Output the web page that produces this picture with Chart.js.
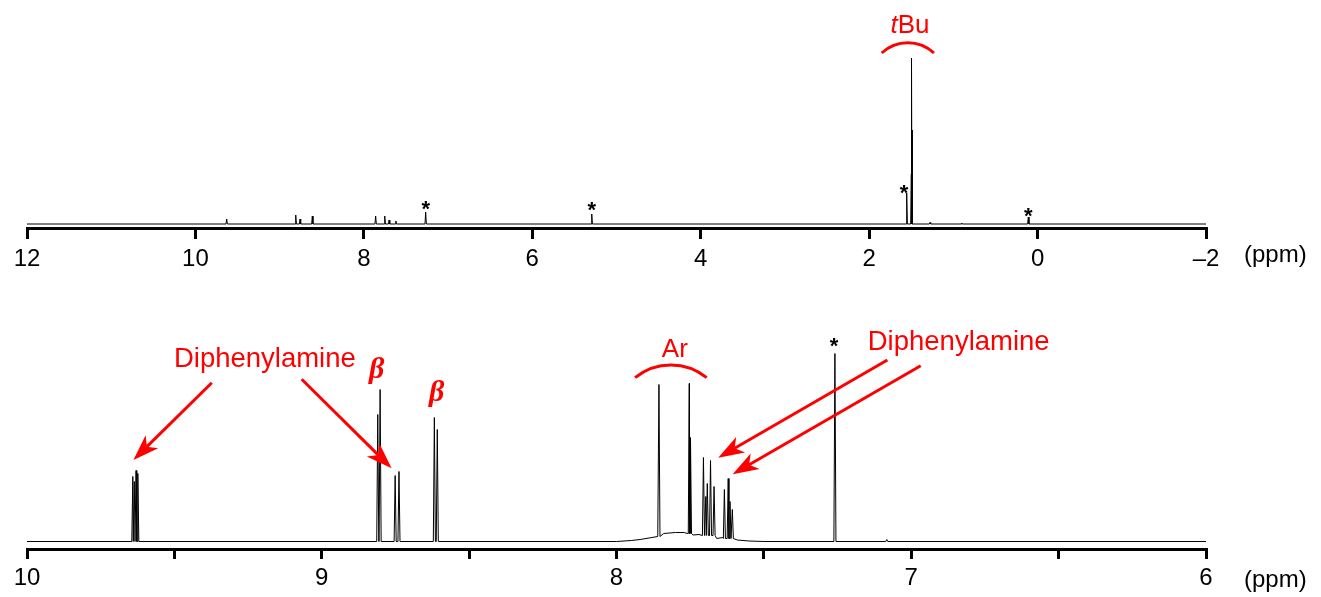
<!DOCTYPE html>
<html>
<head>
<meta charset="utf-8">
<script src="https://cdn.jsdelivr.net/npm/chart.js@4.4.1/dist/chart.umd.min.js"></script>
<style>
  html, body { margin: 0; padding: 0; background: #fff; }
  body { width: 1321px; height: 597px; position: relative; overflow: hidden; }
  .panel { position: absolute; left: 0; width: 1321px; }
  #panelTop { top: 0; height: 297px; }
  #panelBot { top: 297px; height: 300px; }
</style>
</head>
<body>
<div class="panel" id="panelTop"><canvas id="espectroTop"></canvas></div>
<div class="panel" id="panelBot"><canvas id="espectroBot"></canvas></div>
<script>
// Espectro completo (12 a -2 ppm): posicion y altura de cada senal
const shiftTop  = [9.629, 8.809, 8.758, 8.612, 7.860, 7.752, 7.700, 7.620, 7.266, 5.294, 1.554, 1.499, 1.495, 1.491, 1.277, 0.901, 0.110];
const heightTop = [5, 9, 5, 8, 8, 8, 4, 3, 12, 10, 31, 50, 166, 94, 1.5, 1, 7];
const floorTop  = [0, 0, 0, 0, 0, 0, 0, 0, 0, 0, 0, 0, 0, 0, 0, 0, 0];
const baseShiftTop = [12, -2];
const baseLevelTop = [0, 0];

// Ampliacion 10 a 6 ppm
const shiftBot  = [9.641, 9.636, 9.630, 9.624, 8.810, 8.802, 8.751, 8.738, 8.618, 8.608,
                   7.856, 7.753, 7.749, 7.705, 7.697, 7.692, 7.681, 7.669, 7.634, 7.621, 7.615, 7.607, 7.259, 7.083];
const heightBot = [65, 60, 71, 68, 127, 152, 66, 70, 124, 112,
                   152, 150, 96, 78, 39, 52, 75, 49, 49, 60, 37, 29, 188, 2];
const floorBot  = [0, 0, 0, 0, 0, 0, 0, 0, 0, 0,
                   5, 8, 8, 6, 6, 6, 6, 6, 3, 3, 3, 3, 0, 0];
const baseShiftBot = [10, 8.00, 7.95, 7.92, 7.88, 7.86, 7.84, 7.80, 7.77, 7.76, 7.74, 7.72, 7.66, 7.64, 7.59, 7.55, 7.50, 6];
const baseLevelBot = [0, 0, 1, 2, 4, 5, 8, 9, 9, 8, 6.5, 7, 3, 4, 1.5, 0.5, 0, 0];

// Ejes
const ticksTop  = [12, 10, 8, 6, 4, 2, 0, -2];
const labelsTop = ['12', '10', '8', '6', '4', '2', '0', '\u20132'];
const ticksBot  = [10, 9.5, 9, 8.5, 8, 7.5, 7, 6.5, 6];
const labelsBot = ['10', '', '9', '', '8', '', '7', '', '6'];

const ROJO = '#ff0000';
const SANS = "'Liberation Sans', Arial, sans-serif";
const SERIF = "'Liberation Serif', 'Times New Roman', serif";

// Une la linea base y los picos (triangulos estrechos) en una sola traza
function construirTraza(baseX, baseY, pX, pY, pF, semiAncho) {
  const puntos = [];
  baseX.forEach((x, i) => puntos.push({x: x, y: baseY[i]}));
  pX.forEach((x, i) => {
    puntos.push({x: x + semiAncho, y: pF[i]});
    puntos.push({x: x, y: pF[i] + pY[i]});
    puntos.push({x: x - semiAncho, y: pF[i]});
  });
  puntos.sort((a, b) => b.x - a.x);
  return puntos;
}

// Plugin: etiquetas rojas, arcos, flechas, asteriscos y "(ppm)"
const notasPlugin = {
  id: 'notas',
  afterDraw(chart, args, opts) {
    const ctx = chart.ctx;
    const xs = chart.scales.x, ys = chart.scales.y;
    const px = v => xs.getPixelForValue(v);
    const py = v => ys.getPixelForValue(v);
    ctx.save();

    (opts.textos || []).forEach(t => {
      ctx.fillStyle = t.color;
      ctx.textBaseline = 'alphabetic';
      ctx.textAlign = 'left';
      let total = 0;
      t.partes.forEach(p => { ctx.font = p.font; total += ctx.measureText(p.t).width; });
      let x = px(t.x) - total / 2;
      t.partes.forEach(p => {
        ctx.font = p.font;
        ctx.fillText(p.t, x, py(t.y));
        x += ctx.measureText(p.t).width;
      });
    });

    ctx.strokeStyle = ROJO;
    ctx.fillStyle = ROJO;
    ctx.lineWidth = 3;
    ctx.lineCap = 'butt';
    (opts.arcos || []).forEach(a => {
      const x1 = px(a.x1), x2 = px(a.x2), yE = py(a.yEnd), yT = py(a.yTop);
      const c = Math.abs(x2 - x1), s = yE - yT;
      const r = (c * c / 4 + s * s) / (2 * s);
      const cx = (x1 + x2) / 2, cy = yT + r;
      const a1 = Math.atan2(yE - cy, Math.min(x1, x2) - cx);
      const a2 = Math.atan2(yE - cy, Math.max(x1, x2) - cx);
      ctx.beginPath();
      ctx.arc(cx, cy, r, a1, a2, false);
      ctx.stroke();
    });

    (opts.flechas || []).forEach(f => {
      const x1 = px(f.x1), y1 = py(f.y1), x2 = px(f.x2), y2 = py(f.y2);
      const ang = Math.atan2(y2 - y1, x2 - x1);
      const L = 26, W = 9, N = 19;
      const ux = Math.cos(ang), uy = Math.sin(ang);
      ctx.beginPath();
      ctx.moveTo(x1, y1);
      ctx.lineTo(x2 - ux * N, y2 - uy * N);
      ctx.stroke();
      ctx.beginPath();
      ctx.moveTo(x2, y2);
      ctx.lineTo(x2 - ux * L - uy * W, y2 - uy * L + ux * W);
      ctx.lineTo(x2 - ux * N, y2 - uy * N);
      ctx.lineTo(x2 - ux * L + uy * W, y2 - uy * L - ux * W);
      ctx.closePath();
      ctx.fill();
    });

    ctx.fillStyle = '#000';
    ctx.font = 'bold 22px ' + SANS;
    ctx.textAlign = 'center';
    ctx.textBaseline = 'alphabetic';
    (opts.asteriscos || []).forEach(a => ctx.fillText('*', px(a[0]), py(a[1])));

    if (opts.ppm) {
      ctx.font = '24px ' + SANS;
      ctx.textAlign = 'left';
      ctx.fillText('(ppm)', chart.chartArea.right + opts.ppm.dx, chart.chartArea.bottom + opts.ppm.dy);
    }
    ctx.restore();
  }
};

function ejeX(min, max, posiciones, etiquetas, largo, relleno) {
  return {
    type: 'linear',
    reverse: true,
    min: min,
    max: max,
    afterBuildTicks: s => { s.ticks = posiciones.map(v => ({value: v})); },
    afterFit: s => { s.height = 44; },
    border: { display: true, color: '#000', width: 3 },
    grid: { display: true, drawOnChartArea: false, drawTicks: true, tickLength: largo,
            tickWidth: 3, tickColor: '#000', color: '#000', lineWidth: 3 },
    ticks: {
      color: '#000', padding: relleno, maxRotation: 0, autoSkip: false,
      font: { family: SANS, size: 24 },
      callback: v => etiquetas[posiciones.indexOf(v)]
    }
  };
}

function crearGrafico(id, traza, x, yMin, yMax, pad, notas) {
  return new Chart(document.getElementById(id), {
    type: 'line',
    data: {
      datasets: [{
        data: traza,
        borderColor: '#000',
        borderWidth: 1,
        pointRadius: 0,
        tension: 0,
        fill: false
      }]
    },
    options: {
      responsive: true,
      maintainAspectRatio: false,
      animation: false,
      layout: { padding: pad },
      plugins: { legend: { display: false }, tooltip: { enabled: false }, notas: notas },
      scales: {
        x: x,
        y: { display: false, min: yMin, max: yMax }
      }
    },
    plugins: [notasPlugin]
  });
}

const notasTop = {
  textos: [
    { partes: [{t: 't', font: 'italic 26px ' + SANS}, {t: 'Bu', font: '26px ' + SANS}], x: 1.515, y: 190.7, color: ROJO }
  ],
  arcos: [{ x1: 1.851, x2: 1.230, yEnd: 171, yTop: 181.3 }],
  flechas: [],
  asteriscos: [[7.266, 7.9], [5.294, 7.2], [1.586, 24.5], [0.110, 1.2]],
  ppm: { dx: 38, dy: 34 }
};

const notasBot = {
  textos: [
    { partes: [{t: 'Diphenylamine', font: '27.5px ' + SANS}], x: 9.193, y: 174.8, color: ROJO },
    { partes: [{t: 'Diphenylamine', font: '27.5px ' + SANS}], x: 6.839, y: 191.5, color: ROJO },
    { partes: [{t: 'Ar', font: '26px ' + SANS}], x: 7.802, y: 184.2, color: ROJO },
    { partes: [{t: '\u03B2', font: 'bold italic 30px ' + SERIF}], x: 8.814, y: 163.5, color: ROJO },
    { partes: [{t: '\u03B2', font: 'bold italic 30px ' + SERIF}], x: 8.610, y: 140.5, color: ROJO }
  ],
  arcos: [{ x1: 7.937, x2: 7.694, yEnd: 163.8, yTop: 176.5 }],
  flechas: [
    { x1: 9.373, y1: 158.8, x2: 9.639, y2: 81.5 },
    { x1: 9.068, y1: 162.2, x2: 8.763, y2: 73.2 },
    { x1: 7.081, y1: 181.5, x2: 7.655, y2: 83.8 },
    { x1: 6.968, y1: 175.8, x2: 7.606, y2: 67.2 }
  ],
  asteriscos: [[7.262, 188.7]],
  ppm: { dx: 38, dy: 38 }
};

crearGrafico('espectroTop',
  construirTraza(baseShiftTop, baseLevelTop, shiftTop, heightTop, floorTop, 0.008),
  ejeX(-2, 12, ticksTop, labelsTop, 11, 6),
  -4, 184,
  { left: 27, right: 115, top: 40, bottom: 25 },
  notasTop);

crearGrafico('espectroBot',
  construirTraza(baseShiftBot, baseLevelBot, shiftBot, heightBot, floorBot, 0.0035),
  ejeX(6, 10, ticksBot, labelsBot, 10, 5),
  -7.5, 204.5,
  { left: 27, right: 115, top: 40, bottom: 4 },
  notasBot);
</script>
</body>
</html>
